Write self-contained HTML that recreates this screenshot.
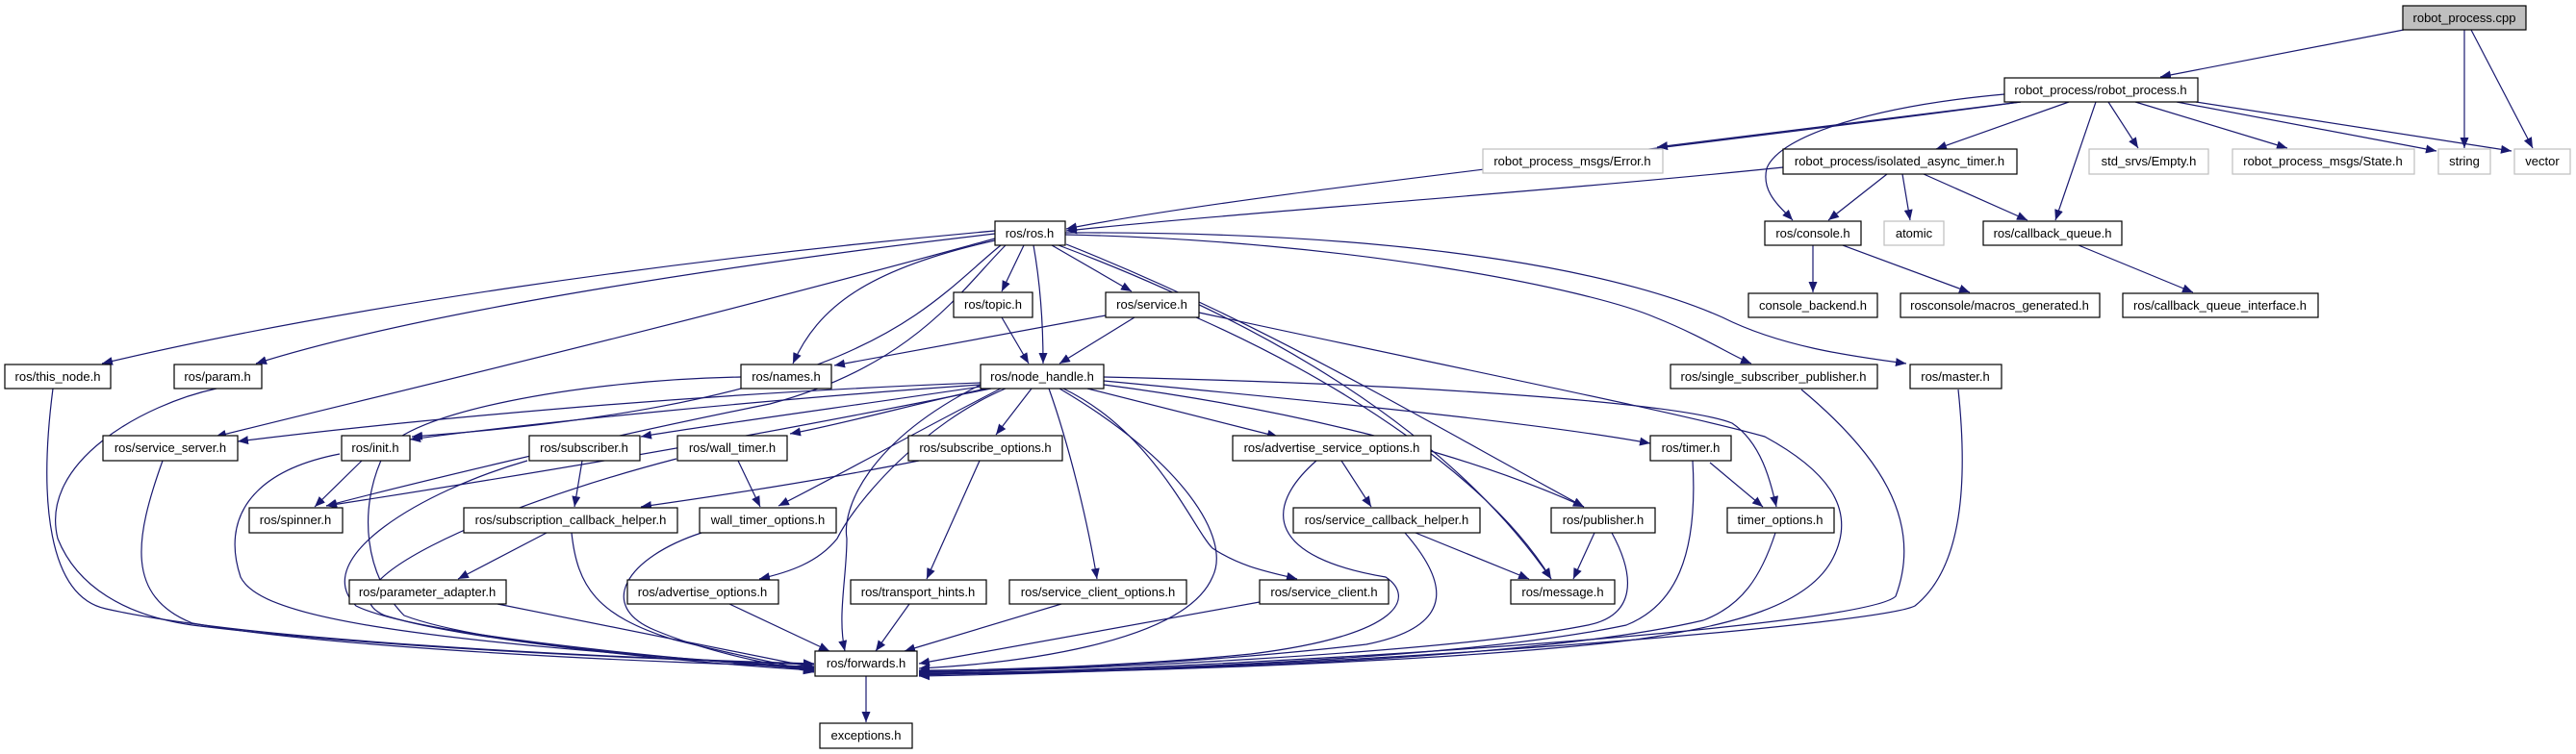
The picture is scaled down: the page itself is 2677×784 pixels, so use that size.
<!DOCTYPE html>
<html><head><meta charset="utf-8"><style>
html,body{margin:0;padding:0;background:#fff}
svg{display:block}
text{font-family:"Liberation Sans",sans-serif;font-size:13px;fill:#000}
.b{fill:#fff;stroke:#000;stroke-width:1.2}
.g{fill:#fff;stroke:#bfbfbf;stroke-width:1.2}
.e{fill:none;stroke:#191970;stroke-width:1.2}
</style></head><body>
<svg width="2677" height="784" viewBox="0 0 2677 784" xmlns="http://www.w3.org/2000/svg">
<defs><marker id="a" markerUnits="userSpaceOnUse" markerWidth="12" markerHeight="10" refX="11" refY="4.5" orient="auto"><path d="M0,0 L11,4.5 L0,9 z" fill="#191970"/></marker></defs>
<g class="e" marker-end="url(#a)">
<path d="M2498,31 L2245,80"/>
<path d="M2561,31 L2561,154"/>
<path d="M2568,31 L2632,154"/>
<path d="M2100,106 L1722,153"/>
<path d="M2100,106 C1700,160 1300,200 1108,238"/>
<path d="M1853,174 C1600,200 1300,220 1108,240"/>
<path d="M2150,106 L2012,155"/>
<path d="M2083,98 C1950,110 1850,140 1836,175 C1830,200 1850,215 1863,229"/>
<path d="M2178,106 L2136,229"/>
<path d="M2191,106 L2222,154"/>
<path d="M2219,106 L2377,154"/>
<path d="M2262,106 L2532,157"/>
<path d="M2282,106 L2610,157"/>
<path d="M1961,181 L1900,229"/>
<path d="M1977,181 L1985,229"/>
<path d="M1999,181 L2107,229"/>
<path d="M1884,255 L1884,304"/>
<path d="M1915,255 L2047,304"/>
<path d="M2160,255 L2279,304"/>
<path d="M1034,240 C700,270 350,320 106,378"/>
<path d="M1034,243 C800,270 450,320 266,378"/>
<path d="M1034,248 C700,340 400,410 224,454"/>
<path d="M1034,250 C900,280 850,320 824,378"/>
<path d="M1040,255 C960,320 900,420 428,454"/>
<path d="M1045,255 C1000,300 950,380 800,420 C600,460 400,510 339,526"/>
<path d="M1064,255 L1041,303"/>
<path d="M1074,255 C1082,300 1084,340 1084,378"/>
<path d="M1093,255 L1176,303"/>
<path d="M1108,254 C1300,330 1450,420 1646,527"/>
<path d="M1100,255 C1300,330 1500,440 1612,602"/>
<path d="M1107,244 C1400,250 1650,300 1720,330 C1770,350 1800,370 1820,378"/>
<path d="M1107,242 C1500,240 1700,290 1790,330 C1850,360 1920,370 1981,378"/>
<path d="M1041,330 L1069,378"/>
<path d="M1179,330 L1101,378"/>
<path d="M1149,328 L867,380"/>
<path d="M1243,330 C1400,400 1550,500 1612,602"/>
<path d="M1019,398 C700,410 400,440 247,459"/>
<path d="M1019,400 C800,415 550,440 426,457"/>
<path d="M1019,402 C900,420 750,440 666,454"/>
<path d="M1025,404 C950,420 880,440 821,451"/>
<path d="M1030,404 C900,430 700,470 339,526"/>
<path d="M1040,404 C950,450 880,490 809,526"/>
<path d="M1045,404 C960,440 890,520 870,560 C850,585 820,595 789,602"/>
<path d="M1072,404 L1035,452"/>
<path d="M1090,404 C1110,460 1130,540 1140,602"/>
<path d="M1105,404 C1200,450 1240,550 1260,570 C1290,590 1320,595 1348,602"/>
<path d="M1130,404 L1328,454"/>
<path d="M1147,400 C1300,420 1500,460 1646,527"/>
<path d="M1147,396 C1400,420 1600,440 1715,461"/>
<path d="M1147,392 C1500,400 1750,420 1800,440 C1830,460 1840,500 1846,527"/>
<path d="M605,479 L597,527"/>
<path d="M955,479 C850,500 750,515 666,527"/>
<path d="M1018,479 L963,602"/>
<path d="M767,479 L790,527"/>
<path d="M376,479 L327,527"/>
<path d="M568,554 L476,602"/>
<path d="M1394,479 L1425,527"/>
<path d="M1471,554 L1589,602"/>
<path d="M1657,554 L1635,602"/>
<path d="M1777,481 L1832,527"/>
<path d="M900,703 L900,751"/>
<path d="M55,404 C40,520 50,620 110,633 C250,665 600,683 846,690"/>
<path d="M225,404 C150,420 40,480 60,560 C80,610 130,640 200,650 C400,675 700,686 846,691"/>
<path d="M169,479 C140,560 130,620 200,648 C350,675 700,690 846,693"/>
<path d="M353,472 C260,490 230,540 250,600 C270,640 400,665 846,694"/>
<path d="M770,392 C600,395 420,430 400,470 C370,530 380,600 420,640 C500,670 700,685 846,695"/>
<path d="M548,479 C440,510 320,580 370,630 C430,660 700,685 846,696"/>
<path d="M703,477 C500,530 330,610 400,640 C480,665 700,688 846,697"/>
<path d="M594,554 C600,610 620,640 700,665 C760,680 800,688 846,698"/>
<path d="M729,554 C650,580 620,630 680,655 C740,680 800,690 846,699"/>
<path d="M517,628 L846,694"/>
<path d="M758,628 L862,677"/>
<path d="M945,628 L910,677"/>
<path d="M1103,628 L940,677"/>
<path d="M1309,626 L955,690"/>
<path d="M1101,404 C1230,480 1280,560 1260,600 C1230,670 1050,690 955,695"/>
<path d="M1019,400 C900,460 875,530 880,560 C880,600 870,640 878,677"/>
<path d="M1368,479 C1310,530 1320,580 1440,600 C1470,620 1460,660 1300,680 C1150,695 1000,697 955,697"/>
<path d="M1460,554 C1500,600 1520,650 1420,670 C1250,690 1050,698 955,698"/>
<path d="M1675,554 C1700,600 1700,640 1650,650 C1500,680 1100,698 955,699"/>
<path d="M1759,479 C1765,580 1740,630 1690,650 C1500,690 1100,699 955,700"/>
<path d="M1845,554 C1830,600 1810,630 1770,645 C1600,685 1200,700 955,700"/>
<path d="M1246,325 C1500,380 1750,430 1834,454 C1900,490 1930,530 1905,580 C1880,630 1800,650 1700,665 C1500,690 1100,701 955,701"/>
<path d="M1872,405 C1950,470 2000,540 1970,620 C1940,650 1400,690 955,702"/>
<path d="M2035,405 C2045,500 2040,590 1990,630 C1950,650 1400,695 955,703"/>
</g>
<rect class="b" x="2497" y="6" width="128" height="25" style="fill:#bfbfbf"/><text x="2561" y="23" text-anchor="middle">robot_process.cpp</text>
<rect class="b" x="2083" y="81" width="201" height="25"/><text x="2183" y="98" text-anchor="middle">robot_process/robot_process.h</text>
<rect class="g" x="1541" y="155" width="187" height="25"/><text x="1634" y="172" text-anchor="middle">robot_process_msgs/Error.h</text>
<rect class="b" x="1853" y="155" width="243" height="26"/><text x="1974" y="172" text-anchor="middle">robot_process/isolated_async_timer.h</text>
<rect class="g" x="2171" y="155" width="124" height="26"/><text x="2233" y="172" text-anchor="middle">std_srvs/Empty.h</text>
<rect class="g" x="2320" y="155" width="189" height="26"/><text x="2414" y="172" text-anchor="middle">robot_process_msgs/State.h</text>
<rect class="g" x="2534" y="155" width="54" height="26"/><text x="2561" y="172" text-anchor="middle">string</text>
<rect class="g" x="2613" y="155" width="58" height="26"/><text x="2642" y="172" text-anchor="middle">vector</text>
<rect class="b" x="1034" y="230" width="73" height="25"/><text x="1070" y="247" text-anchor="middle">ros/ros.h</text>
<rect class="b" x="1834" y="230" width="100" height="25"/><text x="1884" y="247" text-anchor="middle">ros/console.h</text>
<rect class="g" x="1958" y="230" width="62" height="25"/><text x="1989" y="247" text-anchor="middle">atomic</text>
<rect class="b" x="2061" y="230" width="144" height="25"/><text x="2133" y="247" text-anchor="middle">ros/callback_queue.h</text>
<rect class="b" x="991" y="304" width="82" height="26"/><text x="1032" y="321" text-anchor="middle">ros/topic.h</text>
<rect class="b" x="1149" y="304" width="97" height="26"/><text x="1197" y="321" text-anchor="middle">ros/service.h</text>
<rect class="b" x="1817" y="305" width="134" height="25"/><text x="1884" y="322" text-anchor="middle">console_backend.h</text>
<rect class="b" x="1975" y="305" width="207" height="25"/><text x="2078" y="322" text-anchor="middle">rosconsole/macros_generated.h</text>
<rect class="b" x="2206" y="305" width="203" height="25"/><text x="2307" y="322" text-anchor="middle">ros/callback_queue_interface.h</text>
<rect class="b" x="5" y="379" width="110" height="25"/><text x="60" y="396" text-anchor="middle">ros/this_node.h</text>
<rect class="b" x="181" y="379" width="91" height="25"/><text x="226" y="396" text-anchor="middle">ros/param.h</text>
<rect class="b" x="770" y="379" width="94" height="25"/><text x="817" y="396" text-anchor="middle">ros/names.h</text>
<rect class="b" x="1019" y="379" width="128" height="25"/><text x="1083" y="396" text-anchor="middle">ros/node_handle.h</text>
<rect class="b" x="1736" y="379" width="215" height="25"/><text x="1843" y="396" text-anchor="middle">ros/single_subscriber_publisher.h</text>
<rect class="b" x="1985" y="379" width="95" height="25"/><text x="2032" y="396" text-anchor="middle">ros/master.h</text>
<rect class="b" x="107" y="453" width="140" height="26"/><text x="177" y="470" text-anchor="middle">ros/service_server.h</text>
<rect class="b" x="355" y="453" width="71" height="26"/><text x="390" y="470" text-anchor="middle">ros/init.h</text>
<rect class="b" x="550" y="453" width="115" height="26"/><text x="607" y="470" text-anchor="middle">ros/subscriber.h</text>
<rect class="b" x="704" y="453" width="114" height="26"/><text x="761" y="470" text-anchor="middle">ros/wall_timer.h</text>
<rect class="b" x="944" y="453" width="160" height="26"/><text x="1024" y="470" text-anchor="middle">ros/subscribe_options.h</text>
<rect class="b" x="1281" y="453" width="206" height="26"/><text x="1384" y="470" text-anchor="middle">ros/advertise_service_options.h</text>
<rect class="b" x="1715" y="453" width="84" height="26"/><text x="1757" y="470" text-anchor="middle">ros/timer.h</text>
<rect class="b" x="259" y="528" width="97" height="26"/><text x="307" y="545" text-anchor="middle">ros/spinner.h</text>
<rect class="b" x="482" y="528" width="222" height="26"/><text x="593" y="545" text-anchor="middle">ros/subscription_callback_helper.h</text>
<rect class="b" x="727" y="528" width="142" height="26"/><text x="798" y="545" text-anchor="middle">wall_timer_options.h</text>
<rect class="b" x="1344" y="528" width="194" height="26"/><text x="1441" y="545" text-anchor="middle">ros/service_callback_helper.h</text>
<rect class="b" x="1612" y="528" width="108" height="26"/><text x="1666" y="545" text-anchor="middle">ros/publisher.h</text>
<rect class="b" x="1795" y="528" width="111" height="26"/><text x="1850" y="545" text-anchor="middle">timer_options.h</text>
<rect class="b" x="363" y="603" width="163" height="25"/><text x="444" y="620" text-anchor="middle">ros/parameter_adapter.h</text>
<rect class="b" x="652" y="603" width="157" height="25"/><text x="730" y="620" text-anchor="middle">ros/advertise_options.h</text>
<rect class="b" x="884" y="603" width="141" height="25"/><text x="954" y="620" text-anchor="middle">ros/transport_hints.h</text>
<rect class="b" x="1049" y="603" width="184" height="25"/><text x="1141" y="620" text-anchor="middle">ros/service_client_options.h</text>
<rect class="b" x="1309" y="603" width="134" height="25"/><text x="1376" y="620" text-anchor="middle">ros/service_client.h</text>
<rect class="b" x="1570" y="603" width="108" height="25"/><text x="1624" y="620" text-anchor="middle">ros/message.h</text>
<rect class="b" x="847" y="677" width="106" height="26"/><text x="900" y="694" text-anchor="middle">ros/forwards.h</text>
<rect class="b" x="852" y="752" width="96" height="26"/><text x="900" y="769" text-anchor="middle">exceptions.h</text>
</svg>
</body></html>
